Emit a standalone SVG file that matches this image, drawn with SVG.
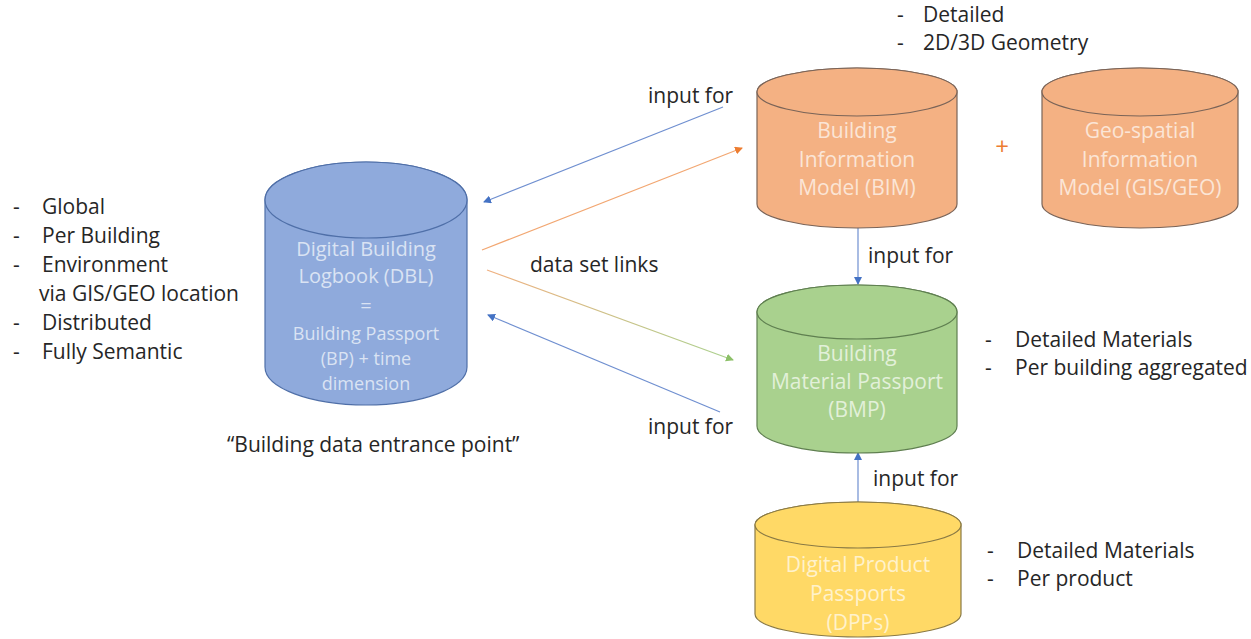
<svg xmlns="http://www.w3.org/2000/svg" width="1251" height="639" viewBox="0 0 1251 639">
<style>
text{font-family:"Open Sans","Liberation Sans",sans-serif;}
.t{font-size:21px;fill:#262626;}
.c{font-size:21px;text-anchor:middle;}
.cs{font-size:18px;text-anchor:middle;}
.line{fill:none;stroke-width:1.2;}
</style>
<defs>
<marker id="mb" markerWidth="8" markerHeight="8" refX="7" refY="4" orient="auto" markerUnits="userSpaceOnUse"><path d="M0,0 L8,4 L0,8 Z" fill="#4472c4"/></marker>
<marker id="mo" markerWidth="8" markerHeight="8" refX="7" refY="4" orient="auto" markerUnits="userSpaceOnUse"><path d="M0,0 L8,4 L0,8 Z" fill="#ed7d31"/></marker>
<marker id="mg" markerWidth="8" markerHeight="8" refX="7" refY="4" orient="auto" markerUnits="userSpaceOnUse"><path d="M0,0 L8,4 L0,8 Z" fill="#8cc068"/></marker>
<linearGradient id="og" gradientUnits="userSpaceOnUse" x1="487" y1="270" x2="733" y2="360"><stop offset="0" stop-color="#f0b080"/><stop offset="1" stop-color="#a9d18e"/></linearGradient>
</defs>

<g id="connectors">
<line class="line" x1="723" y1="107" x2="484" y2="202" stroke="#6f8fd0" marker-end="url(#mb)"/>
<line class="line" x1="482" y1="250" x2="742" y2="148" stroke="#f2a772" marker-end="url(#mo)"/>
<line class="line" x1="487" y1="270" x2="733" y2="360" stroke="url(#og)" marker-end="url(#mg)"/>
<line class="line" x1="720" y1="412" x2="488" y2="315" stroke="#6f8fd0" marker-end="url(#mb)"/>
<line class="line" x1="858" y1="228" x2="858" y2="284" stroke="#6f8fd0" marker-end="url(#mb)"/>
<line class="line" x1="858" y1="502" x2="858" y2="453" stroke="#6f8fd0" marker-end="url(#mb)"/>
</g>

<g id="dbl">
<path d="M265,200 L265,367 A101,38 0 0 0 467,367 L467,200 A101,38 0 0 0 265,200 Z" fill="#8faadc" stroke="#4f6fa8" stroke-width="1.2"/>
<ellipse cx="366" cy="200" rx="101" ry="38" fill="#8faadc" stroke="#4f6fa8" stroke-width="1.2"/>
<g fill="#dae3f3">
<text class="c" x="366" y="256" style="font-size:20px">Digital Building</text>
<text class="c" x="366" y="283" style="font-size:20px">Logbook (DBL)</text>
<text class="c" x="366" y="313" style="font-size:20px">=</text>
<text class="cs" x="366" y="340">Building Passport</text>
<text class="cs" x="366" y="365">(BP) + time</text>
<text class="cs" x="366" y="390">dimension</text>
</g>
</g>

<g id="bim">
<path d="M757,92 L757,204 A100,24 0 0 0 957,204 L957,92 A100,24 0 0 0 757,92 Z" fill="#f4b183" stroke="#7a6458" stroke-width="1.2"/>
<ellipse cx="857" cy="92" rx="100" ry="24" fill="#f4b183" stroke="#7a6458" stroke-width="1.2"/>
<g fill="#fbe5d6">
<text class="c" x="857" y="138">Building</text>
<text class="c" x="857" y="167">Information</text>
<text class="c" x="857" y="195">Model (BIM)</text>
</g>
</g>

<g id="plus"><text x="1002" y="155" style="font-size:24px;text-anchor:middle;fill:#ed7d31;">+</text></g>

<g id="gis">
<path d="M1042,92 L1042,204 A98,24 0 0 0 1238,204 L1238,92 A98,24 0 0 0 1042,92 Z" fill="#f4b183" stroke="#7a6458" stroke-width="1.2"/>
<ellipse cx="1140" cy="92" rx="98" ry="24" fill="#f4b183" stroke="#7a6458" stroke-width="1.2"/>
<g fill="#fbe5d6">
<text class="c" x="1140" y="138">Geo-spatial</text>
<text class="c" x="1140" y="167">Information</text>
<text class="c" x="1140" y="195">Model (GIS/GEO)</text>
</g>
</g>

<g id="bmp">
<path d="M757,312 L757,426 A100,27 0 0 0 957,426 L957,312 A100,27 0 0 0 757,312 Z" fill="#a9d18e" stroke="#5f7f50" stroke-width="1.2"/>
<ellipse cx="857" cy="312" rx="100" ry="27" fill="#a9d18e" stroke="#5f7f50" stroke-width="1.2"/>
<g fill="#e2f0d9">
<text class="c" x="857" y="361">Building</text>
<text class="c" x="857" y="389">Material Passport</text>
<text class="c" x="857" y="417">(BMP)</text>
</g>
</g>

<g id="dpp">
<path d="M755,525 L755,614 A103,23 0 0 0 961,614 L961,525 A103,23 0 0 0 755,525 Z" fill="#ffd966" stroke="#8a7a45" stroke-width="1.2"/>
<ellipse cx="858" cy="525" rx="103" ry="23" fill="#ffd966" stroke="#8a7a45" stroke-width="1.2"/>
<g fill="#fff2cc">
<text class="c" x="858" y="572">Digital Product</text>
<text class="c" x="858" y="601">Passports</text>
<text class="c" x="858" y="630">(DPPs)</text>
</g>
</g>

<g id="labels">
<text class="t" x="648" y="103">input for</text>
<text class="t" x="530" y="272">data set links</text>
<text class="t" x="648" y="434">input for</text>
<text class="t" x="868" y="263">input for</text>
<text class="t" x="873" y="486">input for</text>
<text class="t" x="227" y="452">“Building data entrance point”</text>
</g>

<g id="list-dbl">
<text class="t" x="13" y="214">-</text><text class="t" x="42" y="214">Global</text>
<text class="t" x="13" y="243">-</text><text class="t" x="42" y="243">Per Building</text>
<text class="t" x="13" y="272">-</text><text class="t" x="42" y="272">Environment</text>
<text class="t" x="39" y="301">via GIS/GEO location</text>
<text class="t" x="13" y="330">-</text><text class="t" x="42" y="330">Distributed</text>
<text class="t" x="13" y="359">-</text><text class="t" x="42" y="359">Fully Semantic</text>
</g>

<g id="list-bim">
<text class="t" x="897" y="22">-</text><text class="t" x="923" y="22">Detailed</text>
<text class="t" x="897" y="50">-</text><text class="t" x="923" y="50">2D/3D Geometry</text>
</g>

<g id="list-bmp">
<text class="t" x="985" y="347">-</text><text class="t" x="1015" y="347">Detailed Materials</text>
<text class="t" x="985" y="375">-</text><text class="t" x="1015" y="375">Per building aggregated</text>
</g>

<g id="list-dpp">
<text class="t" x="987" y="558">-</text><text class="t" x="1017" y="558">Detailed Materials</text>
<text class="t" x="987" y="586">-</text><text class="t" x="1017" y="586">Per product</text>
</g>
</svg>
